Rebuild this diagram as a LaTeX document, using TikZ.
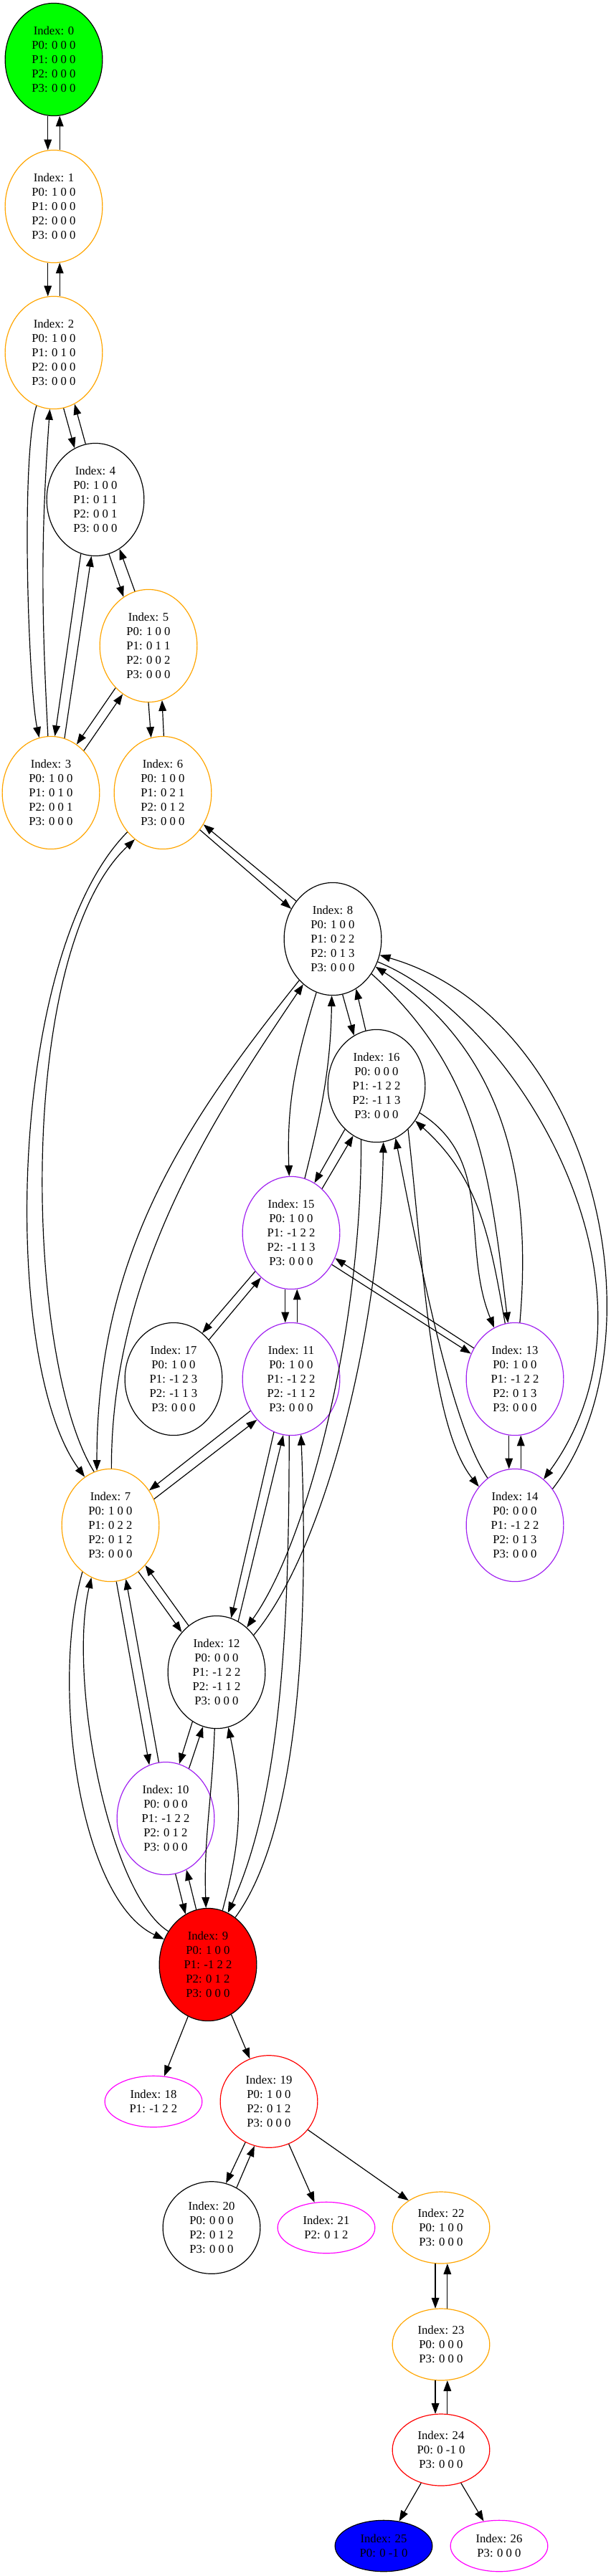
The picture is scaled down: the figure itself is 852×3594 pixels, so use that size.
\documentclass[tikz,border=0pt]{standalone}
\usepackage{fontspec}
\setmainfont{Liberation Serif}
\usepackage{tikz}
\usetikzlibrary{arrows.meta,shapes.geometric}
\definecolor{gvorange}{RGB}{255,165,0}
\definecolor{gvpurple}{RGB}{160,32,240}
\definecolor{gvmagenta}{RGB}{255,0,255}
\definecolor{gvgreen}{RGB}{0,255,0}
\definecolor{gvred}{RGB}{255,0,0}
\definecolor{gvblue}{RGB}{0,0,255}
\newcommand{\stfont}{\fontsize{14pt}{16.8pt}\selectfont}
\tikzset{
  stv/.style={ellipse, draw=black, line width=1pt, inner sep=0pt, align=center, font=\stfont, minimum width=114pt},
  five/.style={stv, minimum height=132pt},
  four/.style={stv, minimum height=108pt},
  three/.style={stv, minimum height=84pt},
  two/.style={stv, minimum height=60pt},
  orangev/.style={draw=gvorange},
  purplev/.style={draw=gvpurple},
  redv/.style={draw=gvred},
  magv/.style={draw=gvmagenta},
  startv/.style={fill=gvgreen},
  deadv/.style={fill=gvred},
  goalv/.style={fill=gvblue},
  mv/.style={-{Triangle[length=12.5pt,width=9pt]}, line width=1pt}
}

\begin{document}
\begin{tikzpicture}[x=0.84pt,y=0.84pt]
  \useasboundingbox (0,0) rectangle (852,-3594);

  \node[five,startv] (n0) at (75,-83) {Index: 0\\P0: 0 0 0\\P1: 0 0 0\\P2: 0 0 0\\P3: 0 0 0};
  \node[five,orangev] (n1) at (75,-288) {Index: 1\\P0: 1 0 0\\P1: 0 0 0\\P2: 0 0 0\\P3: 0 0 0};
  \node[five,orangev] (n2) at (75,-492) {Index: 2\\P0: 1 0 0\\P1: 0 1 0\\P2: 0 0 0\\P3: 0 0 0};
  \node[five] (n4) at (133,-697) {Index: 4\\P0: 1 0 0\\P1: 0 1 1\\P2: 0 0 1\\P3: 0 0 0};
  \node[five,orangev] (n5) at (207,-901) {Index: 5\\P0: 1 0 0\\P1: 0 1 1\\P2: 0 0 2\\P3: 0 0 0};
  \node[five,orangev] (n3) at (71,-1106) {Index: 3\\P0: 1 0 0\\P1: 0 1 0\\P2: 0 0 1\\P3: 0 0 0};
  \node[five,orangev] (n6) at (227,-1106) {Index: 6\\P0: 1 0 0\\P1: 0 2 1\\P2: 0 1 2\\P3: 0 0 0};
  \node[five] (n8) at (464,-1310) {Index: 8\\P0: 1 0 0\\P1: 0 2 2\\P2: 0 1 3\\P3: 0 0 0};
  \node[five] (n16) at (525,-1515) {Index: 16\\P0: 0 0 0\\P1: -1 2 2\\P2: -1 1 3\\P3: 0 0 0};
  \node[five,purplev] (n15) at (406,-1720) {Index: 15\\P0: 1 0 0\\P1: -1 2 2\\P2: -1 1 3\\P3: 0 0 0};
  \node[five] (n17) at (242,-1924) {Index: 17\\P0: 1 0 0\\P1: -1 2 3\\P2: -1 1 3\\P3: 0 0 0};
  \node[five,purplev] (n11) at (406,-1924) {Index: 11\\P0: 1 0 0\\P1: -1 2 2\\P2: -1 1 2\\P3: 0 0 0};
  \node[five,purplev] (n13) at (718,-1924) {Index: 13\\P0: 1 0 0\\P1: -1 2 2\\P2: 0 1 3\\P3: 0 0 0};
  \node[five,purplev] (n14) at (718,-2128) {Index: 14\\P0: 0 0 0\\P1: -1 2 2\\P2: 0 1 3\\P3: 0 0 0};
  \node[five,orangev] (n7) at (154,-2128) {Index: 7\\P0: 1 0 0\\P1: 0 2 2\\P2: 0 1 2\\P3: 0 0 0};
  \node[five] (n12) at (302,-2333) {Index: 12\\P0: 0 0 0\\P1: -1 2 2\\P2: -1 1 2\\P3: 0 0 0};
  \node[five,purplev] (n10) at (231,-2537) {Index: 10\\P0: 0 0 0\\P1: -1 2 2\\P2: 0 1 2\\P3: 0 0 0};
  \node[five,deadv] (n9) at (290,-2741) {Index: 9\\P0: 1 0 0\\P1: -1 2 2\\P2: 0 1 2\\P3: 0 0 0};
  \node[two,magv] (n18) at (214,-2932) {Index: 18\\P1: -1 2 2};
  \node[four,redv] (n19) at (375,-2932) {Index: 19\\P0: 1 0 0\\P2: 0 1 2\\P3: 0 0 0};
  \node[four] (n20) at (295,-3108) {Index: 20\\P0: 0 0 0\\P2: 0 1 2\\P3: 0 0 0};
  \node[two,magv] (n21) at (455,-3108) {Index: 21\\P2: 0 1 2};
  \node[three,orangev] (n22) at (615,-3108) {Index: 22\\P0: 1 0 0\\P3: 0 0 0};
  \node[three,orangev] (n23) at (615,-3271) {Index: 23\\P0: 0 0 0\\P3: 0 0 0};
  \node[three,redv] (n24) at (615,-3418) {Index: 24\\P0: 0 -1 0\\P3: 0 0 0};
  \node[two,goalv] (n25) at (535,-3552) {Index: 25\\P0: 0 -1 0};
  \node[two,magv] (n26) at (696,-3552) {Index: 26\\P3: 0 0 0};

  \draw[mv] (n0.264) -- (n1.96);
  \draw[mv] (n1.84) -- (n0.276);
  \draw[mv] (n1.264) -- (n2.96);
  \draw[mv] (n2.84) -- (n1.276);
  \draw[mv] (n2.280) -- (n4.112);
  \draw[mv] (n4.100) -- (n2.292);
  \draw[mv] (n2) to[out=252,in=102,looseness=0.4] (n3);
  \draw[mv] (n3) to[out=93,in=266] (n2);
  \draw[mv] (n4.255) -- (n3.86);
  \draw[mv] (n3.76) -- (n4.266);
  \draw[mv] (n4.284) -- (n5.117);
  \draw[mv] (n5.104) -- (n4.296);
  \draw[mv] (n5.232) -- (n3.62);
  \draw[mv] (n3.52) -- (n5.242);
  \draw[mv] (n5.270) -- (n6.102);
  \draw[mv] (n6.89) -- (n5.284);
  \draw[mv] (n6.315) -- (n8.144);
  \draw[mv] (n8.134) -- (n6.322);
  \draw[mv] (n6.228) .. controls (10,-1330) and (0,-1900) .. (n7.118);
  \draw[mv] (n7.107) .. controls (35,-1900) and (20,-1330) .. (n6.239);
  \draw[mv] (n8.231) .. controls (257,-1568) and (135,-1750) .. (n7.104);
  \draw[mv] (n7.89) .. controls (155,-1780) and (293,-1565) .. (n8.237);
  \draw[mv] (n8) to[out=253,in=92] (n15);
  \draw[mv] (n15) to[out=76,in=269] (n8);
  \draw[mv] (n8.280) -- (n16.114);
  \draw[mv] (n16.101) -- (n8.295);
  \draw[mv] (n8) to[out=318,in=97] (n13);
  \draw[mv] (n13) to[out=85,in=327] (n8);
  \draw[mv] (n8.333) .. controls (720,-1420) and (950,-1800) .. (n14.58);
  \draw[mv] (n14.44) .. controls (930,-1870) and (830,-1420) .. (n8.341);
  \draw[mv] (n16.234) -- (n15.65);
  \draw[mv] (n15.55) -- (n16.245);
  \draw[mv] (n16) to[out=328,in=112] (n13);
  \draw[mv] (n13) to[out=100,in=318] (n16);
  \draw[mv] (n16.306) .. controls (590,-1760) and (600,-1990) .. (n14.133);
  \draw[mv] (n14.120) .. controls (630,-1990) and (585,-1760) .. (n16.290);
  \draw[mv] (n16.254) .. controls (505,-1850) and (430,-2150) .. (n12.56);
  \draw[mv] (n12.45) .. controls (455,-2160) and (530,-1850) .. (n16.277);
  \draw[mv] (n15.227) -- (n17.58);
  \draw[mv] (n17.48) -- (n15.236);
  \draw[mv] (n15.264) -- (n11.96);
  \draw[mv] (n11.84) -- (n15.276);
  \draw[mv] (n15.322) -- (n13.150);
  \draw[mv] (n13.143) -- (n15.330);
  \draw[mv] (n13.264) -- (n14.96);
  \draw[mv] (n14.84) -- (n13.276);
  \draw[mv] (n11.218) -- (n7.42);
  \draw[mv] (n7.31) -- (n11.230);
  \draw[mv] (n11.252) -- (n12.75);
  \draw[mv] (n12.67) -- (n11.262);
  \draw[mv] (n11.268) .. controls (403,-2250) and (395,-2500) .. (n9.69);
  \draw[mv] (n9.60) .. controls (420,-2550) and (430,-2250) .. (n11.280);
  \draw[mv] (n7.301) -- (n12.131);
  \draw[mv] (n12.121) -- (n7.311);
  \draw[mv] (n7.276) -- (n10.107);
  \draw[mv] (n10.97) -- (n7.286);
  \draw[mv] (n7.239) .. controls (70,-2350) and (110,-2650) .. (n9.150);
  \draw[mv] (n9.140) .. controls (150,-2640) and (95,-2340) .. (n7.250);
  \draw[mv] (n12.244) -- (n10.76);
  \draw[mv] (n10.65) -- (n12.256);
  \draw[mv] (n12) to[out=268,in=92] (n9);
  \draw[mv] (n9) to[out=75,in=282] (n12);
  \draw[mv] (n10.280) -- (n9.114);
  \draw[mv] (n9.102) -- (n10.292);
  \draw[mv] (n9.249) -- (n18.67);
  \draw[mv] (n9.295) -- (n19.114);
  \draw[mv] (n19.240) -- (n20.72);
  \draw[mv] (n20.58) -- (n19.252);
  \draw[mv] (n19.295) -- (n21.115);
  \draw[mv] (n19.324) -- (n22.140);
  \draw[mv] (n22.261) -- (n23.99);
  \draw[mv] (n23.80) -- (n22.280);
  \draw[mv] (n23.261) -- (n24.99);
  \draw[mv] (n24.80) -- (n23.280);
  \draw[mv] (n24.239) -- (n25.58);
  \draw[mv] (n24.301) -- (n26.122);
\end{tikzpicture}
\end{document}
